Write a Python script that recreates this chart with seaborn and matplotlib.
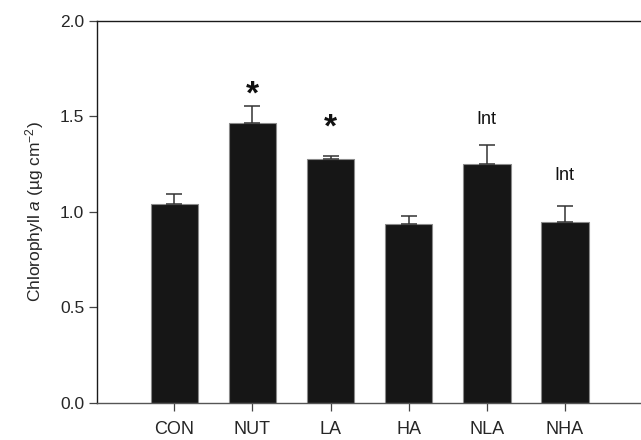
import matplotlib
matplotlib.use("Agg")
import matplotlib.pyplot as plt
import pandas as pd
import seaborn as sns

# valores
tratamentos = ["CON", "NUT", "LA", "HA", "NLA", "NHA"]
clorofila = [1.04, 1.463, 1.274, 0.936, 1.25, 0.948]
erro_padrao = [0.054, 0.089, 0.018, 0.043, 0.098, 0.083]
marcas = ["", "*", "*", "", "Int", "Int"]
altura_marca = [None, 1.628, 1.454, None, 1.485, 1.192]


def plot_clorofila(salvar_arquivo: str) -> None:
    df = pd.DataFrame({"tratamento": tratamentos, "chl": clorofila, "se": erro_padrao})

    sns.set_theme(style="ticks")
    plt.rcParams["font.family"] = ["Liberation Sans", "DejaVu Sans"]
    plt.rcParams["mathtext.fontset"] = "custom"
    plt.rcParams["mathtext.rm"] = "Liberation Sans"
    plt.rcParams["mathtext.it"] = "Liberation Sans:italic"

    fig = plt.figure(figsize=(6.41, 4.40), dpi=100)
    ax = fig.add_axes([96.7 / 641, 37.3 / 440, 1 - 96.7 / 641, 382 / 440])

    sns.barplot(
        data=df,
        x="tratamento",
        y="chl",
        color="#161616",
        saturation=1,
        width=0.61,
        edgecolor="#8a8a8a",
        linewidth=0.8,
        errorbar=None,
        ax=ax,
    )
    ax.errorbar(
        range(len(df)),
        df["chl"],
        yerr=[[0] * len(df), df["se"]],
        fmt="none",
        ecolor="#333333",
        elinewidth=1.1,
        capsize=5.5,
        capthick=1.1,
    )

    # asterisco e "Int" acima das barras
    for i, (marca, y) in enumerate(zip(marcas, altura_marca)):
        if marca == "*":
            ax.text(i, y, marca, ha="center", va="center_baseline",
                    fontsize=24, fontweight="bold", color="#111111")
        elif marca:
            ax.text(i, y, marca, ha="center", va="center",
                    fontsize=13, color="#111111")

    ax.set_xlim(-0.994, 5.976)
    ax.set_ylim(0, 2.0)
    ax.set_yticks([0.0, 0.5, 1.0, 1.5, 2.0])
    ax.set_yticklabels(["0.0", "0.5", "1.0", "1.5", "2.0"])
    ax.set_xlabel("")
    ax.set_ylabel("Chlorophyll $\\it{a}$ (µg cm$^{-2}$)", fontsize=12.5, labelpad=10)
    ax.tick_params(axis="both", labelsize=12.5, length=5.5, width=0.9, color="#444444",
                   direction="out")
    ax.tick_params(axis="x", pad=8, labelsize=13)

    for lado in ["left", "top", "bottom"]:
        ax.spines[lado].set_visible(True)
        ax.spines[lado].set_color("#1a1a1a")
        ax.spines[lado].set_linewidth(1.0)
    ax.spines["right"].set_visible(False)
    ax.spines["bottom"].set_color("#555555")

    fig.savefig(salvar_arquivo, dpi=100)
    plt.close(fig)


if __name__ == "__main__":
    plot_clorofila("out.png")
